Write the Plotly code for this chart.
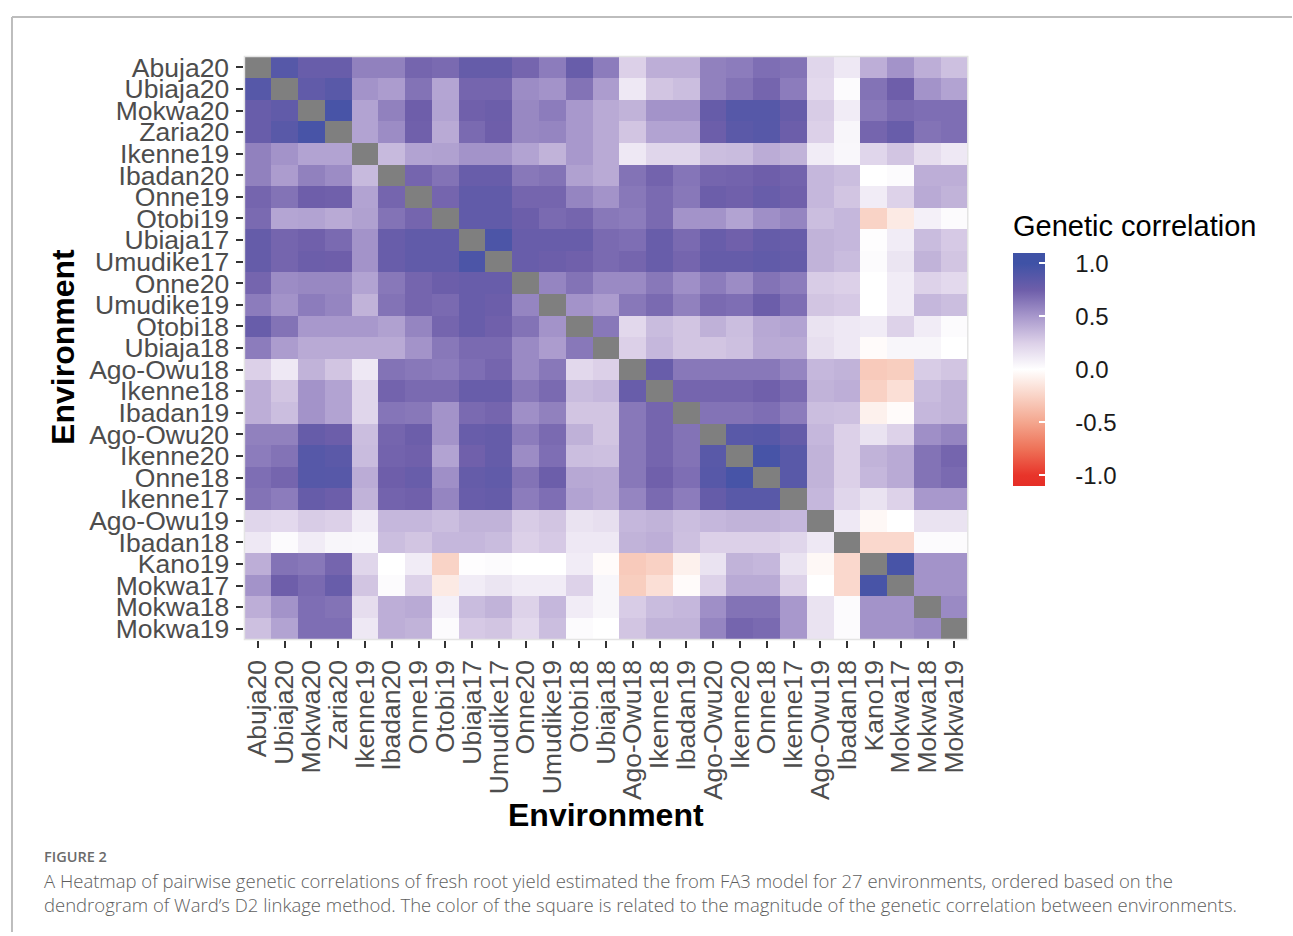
import plotly.graph_objects as go

W, H = 1293, 936

environments = ["Abuja20", "Ubiaja20", "Mokwa20", "Zaria20", "Ikenne19", "Ibadan20",
                "Onne19", "Otobi19", "Ubiaja17", "Umudike17", "Onne20", "Umudike19",
                "Otobi18", "Ubiaja18", "Ago-Owu18", "Ikenne18", "Ibadan19", "Ago-Owu20",
                "Ikenne20", "Onne18", "Ikenne17", "Ago-Owu19", "Ibadan18", "Kano19",
                "Mokwa17", "Mokwa18", "Mokwa19"]

# upper triangle of the genetic correlation matrix: row i holds r(i, j) for j > i
corr_upper = [
    [0.88, 0.78, 0.78, 0.60, 0.60, 0.72, 0.70, 0.80, 0.80, 0.72, 0.62, 0.78, 0.62, 0.25, 0.40, 0.40, 0.60, 0.62, 0.68, 0.66, 0.22, 0.12, 0.40, 0.52, 0.40, 0.32],
    [0.82, 0.86, 0.52, 0.48, 0.66, 0.44, 0.72, 0.72, 0.55, 0.52, 0.66, 0.48, 0.12, 0.30, 0.33, 0.60, 0.66, 0.72, 0.62, 0.20, 0.02, 0.66, 0.75, 0.52, 0.45],
    [0.95, 0.45, 0.60, 0.75, 0.45, 0.74, 0.76, 0.57, 0.62, 0.50, 0.42, 0.38, 0.52, 0.52, 0.79, 0.88, 0.88, 0.79, 0.27, 0.10, 0.64, 0.70, 0.68, 0.68],
    [0.45, 0.55, 0.74, 0.42, 0.70, 0.75, 0.57, 0.58, 0.50, 0.42, 0.30, 0.45, 0.45, 0.76, 0.85, 0.87, 0.76, 0.25, 0.05, 0.72, 0.78, 0.66, 0.68],
    [0.35, 0.45, 0.46, 0.52, 0.52, 0.45, 0.38, 0.50, 0.42, 0.12, 0.22, 0.22, 0.33, 0.34, 0.41, 0.38, 0.10, 0.04, 0.22, 0.30, 0.18, 0.12],
    [0.72, 0.66, 0.78, 0.78, 0.64, 0.66, 0.46, 0.42, 0.66, 0.73, 0.65, 0.72, 0.73, 0.75, 0.73, 0.36, 0.33, 0.00, 0.02, 0.40, 0.40],
    [0.72, 0.82, 0.82, 0.72, 0.72, 0.58, 0.52, 0.64, 0.70, 0.64, 0.76, 0.74, 0.78, 0.74, 0.36, 0.30, 0.10, 0.24, 0.42, 0.38],
    [0.82, 0.82, 0.76, 0.70, 0.72, 0.64, 0.62, 0.70, 0.52, 0.52, 0.45, 0.54, 0.58, 0.33, 0.36, -0.25, -0.12, 0.08, 0.02],
    [0.93, 0.78, 0.78, 0.78, 0.70, 0.68, 0.78, 0.70, 0.78, 0.74, 0.80, 0.78, 0.38, 0.36, 0.01, 0.10, 0.34, 0.28],
    [0.78, 0.76, 0.74, 0.70, 0.72, 0.78, 0.72, 0.80, 0.80, 0.82, 0.80, 0.38, 0.34, 0.02, 0.14, 0.38, 0.30],
    [0.58, 0.66, 0.56, 0.56, 0.64, 0.54, 0.62, 0.55, 0.66, 0.62, 0.27, 0.25, 0.00, 0.10, 0.24, 0.20],
    [0.52, 0.48, 0.64, 0.70, 0.60, 0.70, 0.68, 0.76, 0.68, 0.30, 0.28, 0.00, 0.10, 0.36, 0.33],
    [0.64, 0.21, 0.34, 0.30, 0.39, 0.33, 0.43, 0.45, 0.15, 0.12, 0.10, 0.24, 0.10, 0.02],
    [0.25, 0.36, 0.30, 0.30, 0.32, 0.42, 0.42, 0.17, 0.12, -0.02, 0.05, 0.05, 0.00],
    [0.78, 0.64, 0.64, 0.64, 0.64, 0.58, 0.36, 0.38, -0.30, -0.28, 0.27, 0.30],
    [0.72, 0.72, 0.72, 0.74, 0.70, 0.38, 0.40, -0.26, -0.18, 0.34, 0.38],
    [0.66, 0.66, 0.68, 0.62, 0.33, 0.32, -0.08, -0.02, 0.36, 0.38],
    [0.86, 0.87, 0.80, 0.36, 0.25, 0.15, 0.24, 0.54, 0.58],
    [0.96, 0.86, 0.38, 0.25, 0.38, 0.42, 0.66, 0.72],
    [0.86, 0.38, 0.25, 0.36, 0.42, 0.66, 0.70],
    [0.36, 0.22, 0.15, 0.24, 0.50, 0.50],
    [0.12, -0.04, 0.00, 0.15, 0.15],
    [-0.22, -0.22, 0.02, 0.02],
    [0.95, 0.52, 0.52],
    [0.52, 0.52],
    [0.56],
]

colorbar_ticks = [-1.0, -0.5, 0.0, 0.5, 1.0]
colorbar_ticktext = ["-1.0", "-0.5", "0.0", "0.5", "1.0"]

n = len(environments)
z = [[None] * n for _ in range(n)]
for i, row in enumerate(corr_upper):
    for k, v in enumerate(row):
        j = i + 1 + k
        z[i][j] = v
        z[j][i] = v
diag = [[1.0 if i == j else None for j in range(n)] for i in range(n)]

ZMIN, ZMAX = -1.1, 1.1
stops = [(-1.1, "#E52E27"), (-1.0, "#E8342A"), (-0.75, "#EE7258"), (-0.5, "#F4A68E"),
         (-0.25, "#F9D3C6"), (0.0, "#FFFFFF"), (0.25, "#DCD0E8"), (0.5, "#A898CC"),
         (0.75, "#6E5EAA"), (1.0, "#3F52A6"), (1.1, "#3F52A6")]
colorscale = [[(v - ZMIN) / (ZMAX - ZMIN), c] for v, c in stops]

idx = list(range(n))


def px(x):
    return x / W


def py(y):
    return 1 - y / H


cb_common = dict(
    x=px(1013), xanchor="left", xpad=0,
    y=py(368.5), yanchor="middle", ypad=0,
    thickness=32, thicknessmode="pixels",
    len=233, lenmode="pixels",
    outlinewidth=0,
    tickvals=colorbar_ticks, ticktext=colorbar_ticktext,
)

fig = go.Figure()
fig.add_trace(go.Heatmap(
    z=z, x=idx, y=idx, zmin=ZMIN, zmax=ZMAX, colorscale=colorscale,
    hoverongaps=False,
    colorbar=dict(
        **cb_common,
        ticks="outside", ticklen=26, tickwidth=1, tickcolor="rgba(0,0,0,0)",
        tickfont=dict(family="Liberation Sans, Arial", size=24, color="#1a1a1a"),
    ),
))
fig.add_trace(go.Heatmap(
    z=diag, x=idx, y=idx, zmin=0, zmax=1,
    colorscale=[[0, "#7F7F7F"], [1, "#7F7F7F"]], showscale=False, hoverongaps=False,
))
# overlay colour bar carrying the white inner tick marks
fig.add_trace(go.Scatter(
    x=[None], y=[None], mode="markers", showlegend=False, hoverinfo="skip",
    marker=dict(color=[0.0], cmin=ZMIN, cmax=ZMAX, colorscale=colorscale, showscale=True,
                colorbar=dict(**cb_common, ticks="inside", ticklen=6, tickwidth=1.5,
                              tickcolor="white", showticklabels=False)),
))

tickfont = dict(family="Liberation Sans, Arial", size=26.5, color="#4D4D4D")
fig.update_layout(
    width=W, height=H,
    margin=dict(l=0, r=0, t=0, b=0),
    paper_bgcolor="white", plot_bgcolor="white",
    xaxis=dict(domain=[px(243), px(968)], range=[-0.5, n - 0.5],
               tickvals=idx, ticktext=environments, tickangle=-90,
               ticks="outside", ticklen=7, tickwidth=2, tickcolor="#333333",
               tickfont=tickfont, showgrid=False, zeroline=False, showline=False,
               ticklabelstandoff=2),
    yaxis=dict(domain=[py(641), py(53)], range=[n - 0.5, -0.5],
               tickvals=idx, ticktext=environments,
               ticks="outside", ticklen=7, tickwidth=2, tickcolor="#333333",
               tickfont=tickfont, showgrid=False, zeroline=False, showline=False,
               ticklabelstandoff=2),
    shapes=[
        dict(type="rect", xref="paper", yref="paper", x0=px(243), x1=px(968),
             y0=py(641), y1=py(53), line=dict(color="#E4E4E4", width=1.5), layer="above"),
        dict(type="line", xref="paper", yref="paper", x0=px(10), x1=1, y0=py(13), y1=py(13),
             line=dict(color="#BDBDBD", width=2)),
        dict(type="line", xref="paper", yref="paper", x0=px(10), x1=px(10), y0=py(13), y1=0,
             line=dict(color="#BDBDBD", width=2)),
    ],
    annotations=[
        dict(text="<b>Environment</b>", xref="paper", yref="paper", x=px(605), y=py(818),
             xanchor="center", yanchor="middle", showarrow=False,
             font=dict(family="Liberation Sans, Arial", size=32, color="black")),
        dict(text="<b>Environment</b>", xref="paper", yref="paper", x=px(61), y=py(346),
             xanchor="center", yanchor="middle", showarrow=False, textangle=-90,
             font=dict(family="Liberation Sans, Arial", size=32, color="black")),
        dict(text="Genetic correlation", xref="paper", yref="paper", x=px(1011), y=py(224),
             xanchor="left", yanchor="middle", showarrow=False,
             font=dict(family="Liberation Sans, Arial", size=29, color="black")),
        dict(text="FIGURE 2", xref="paper", yref="paper", x=px(40), y=py(860),
             xanchor="left", yanchor="middle", showarrow=False,
             font=dict(family="Open Sans", size=14.5, color="#6b6b6b", weight=600)),
        dict(text="A Heatmap of pairwise genetic correlations of fresh root yield estimated the from FA3 model for 27 environments, ordered based on the",
             xref="paper", yref="paper", x=px(40), y=py(884),
             xanchor="left", yanchor="middle", showarrow=False,
             font=dict(family="Open Sans", size=18.5, color="#5e5e5e", weight=300)),
        dict(text="dendrogram of Ward\u2019s D2 linkage method. The color of the square is related to the magnitude of the genetic correlation between environments.",
             xref="paper", yref="paper", x=px(40), y=py(908),
             xanchor="left", yanchor="middle", showarrow=False,
             font=dict(family="Open Sans", size=18.5, color="#5e5e5e", weight=300)),
    ],
)

fig.write_html("out.html")
